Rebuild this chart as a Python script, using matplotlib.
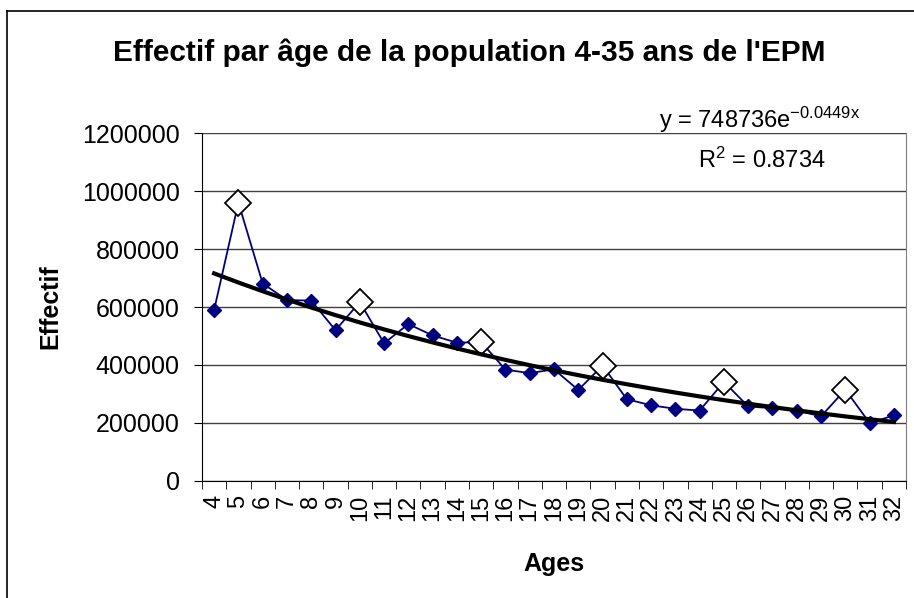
import numpy as np
import matplotlib
matplotlib.use('Agg')
from matplotlib import pyplot as plt
from matplotlib.lines import Line2D

plt.rcParams['font.family'] = ['Liberation Sans', 'DejaVu Sans']
plt.rcParams['mathtext.fontset'] = 'custom'
plt.rcParams['mathtext.rm'] = 'Liberation Sans'
plt.rcParams['mathtext.it'] = 'Liberation Sans:italic'

# ages 4..32 and head counts
ages = list(range(4, 33))
effectif = [590000, 960000, 681000, 624000, 622000, 520000, 617000, 475000,
            541000, 502000, 477000, 479000, 384000, 372000, 385000, 314000,
            398000, 282000, 261000, 249000, 243000, 342000, 257000, 251000,
            243000, 223000, 315000, 200000, 226000]
highlight_ages = [5, 10, 15, 20, 25, 30]

# exponential trend shown on the chart (x = rank 1..29)
trend_a = 748736
trend_b = -0.0449

pos = np.arange(len(ages))
trend = trend_a * np.exp(trend_b * (pos + 1))

fig = plt.figure(figsize=(9.14, 5.98), dpi=100)
ax = fig.add_axes([202 / 914, 1 - 481 / 598, 704 / 914, 348 / 598])

ax.plot(pos, effectif, color='#000080', lw=1.3, marker='D', ms=7,
        mfc='#000080', mec='#000080', zorder=3)
hl = [ages.index(a) for a in highlight_ages]
ax.plot(pos[hl], [effectif[i] for i in hl], ls='none', marker='D', ms=13,
        mfc='white', mec='black', mew=1.3, zorder=4)
ax.plot(pos, trend, color='black', lw=3, zorder=5)

ax.set_xlim(-0.5, len(ages) - 0.5)
ax.set_ylim(0, 1200000)
ax.set_yticks(np.arange(0, 1200001, 200000))
ax.set_yticklabels([str(v) for v in range(0, 1200001, 200000)], fontsize=18)
ax.set_xticks(pos)
ax.set_xticklabels([str(a) for a in ages], rotation=90, fontsize=17)
ax.set_xticks(np.arange(-0.5, len(ages)), minor=True)
ax.tick_params(axis='x', which='major', length=0, pad=10)
ax.tick_params(axis='x', which='minor', length=6, direction='out')
ax.tick_params(axis='y', length=6, direction='out', pad=10)
ax.grid(axis='y', color='#404040', lw=1)
ax.set_axisbelow(True)
ax.spines['right'].set_color('#808080')
ax.spines['top'].set_visible(False)

ax.set_xlabel('Ages', fontsize=18, fontweight='bold', labelpad=22)
ax.set_ylabel('Effectif', fontsize=18, fontweight='bold', labelpad=14)

fig.text(0.513, 1 - 53 / 598, "Effectif par âge de la population 4-35 ans de l'EPM",
         ha='center', va='center', fontsize=21.5, fontweight='bold')
fig.text(760 / 914, 1 - 120 / 598, r'y = 748736e$^{\mathrm{-0.0449x}}$',
         ha='center', va='center', fontsize=17)
fig.text(762 / 914, 1 - 160 / 598, r'R$^{\mathrm{2}}$ = 0.8734',
         ha='center', va='center', fontsize=17)

# outer chart frame
fig.add_artist(Line2D([7 / 914, 7 / 914], [0, 1 - 11 / 598], color='black', lw=1.2))
fig.add_artist(Line2D([7 / 914, 1], [1 - 11 / 598, 1 - 11 / 598], color='black', lw=1.2))

fig.savefig('out.png', dpi=100)
